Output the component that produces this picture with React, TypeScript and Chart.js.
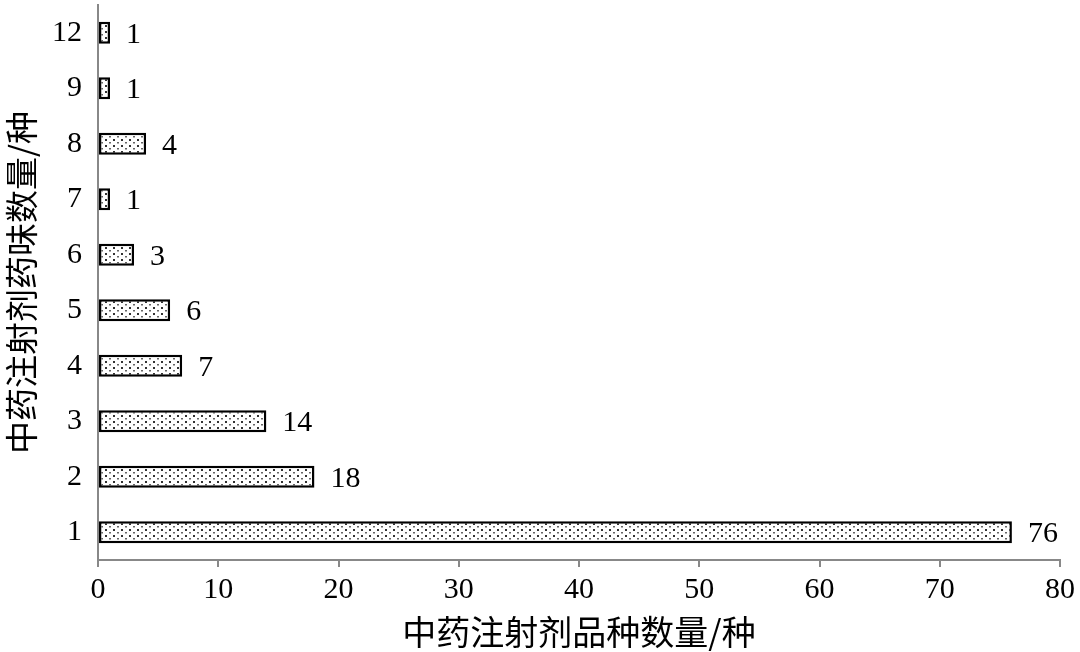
import React, { useEffect, useRef } from "react";
import { Chart, registerables } from "chart.js";

Chart.register(...registerables);

const categories = ["12", "9", "8", "7", "6", "5", "4", "3", "2", "1"];
const counts = [1, 1, 4, 1, 3, 6, 7, 14, 18, 76];
const xTicks = [0, 10, 20, 30, 40, 50, 60, 70, 80];
const xTitle = "中药注射剂品种数量/种";
const yTitle = "中药注射剂药味数量/种";

const SERIF = "'Liberation Serif', 'Times New Roman', serif";
const CJK = "'Noto Sans CJK SC', sans-serif";

function makePattern(): CanvasPattern | string {
  const c = document.createElement("canvas");
  c.width = 8;
  c.height = 6;
  const g = c.getContext("2d");
  if (!g) return "#ddd";
  g.fillStyle = "#ffffff";
  g.fillRect(0, 0, 8, 6);
  g.fillStyle = "#333333";
  g.fillRect(1, 1, 2, 2);
  g.fillStyle = "#666666";
  g.fillRect(5, 4, 2, 1.5);
  const p = g.createPattern(c, "repeat");
  return p || "#ddd";
}

const valueLabels = {
  id: "valueLabels",
  afterDatasetsDraw(chart: any) {
    const ctx = chart.ctx;
    const meta = chart.getDatasetMeta(0);
    ctx.save();
    ctx.fillStyle = "#000";
    ctx.font = `30px ${SERIF}`;
    ctx.textAlign = "left";
    ctx.textBaseline = "middle";
    meta.data.forEach((bar: any, i: number) => {
      ctx.fillText(String(counts[i]), bar.x + 16, bar.y + 2);
    });
    ctx.restore();
  },
};

export default function App() {
  const ref = useRef<HTMLCanvasElement>(null);
  useEffect(() => {
    document.body.style.margin = "0";
    const canvas = ref.current;
    if (!canvas) return;
    const chart = new Chart(canvas, {
      type: "bar",
      data: {
        labels: categories,
        datasets: [
          {
            data: counts,
            backgroundColor: makePattern() as any,
            borderColor: "#000",
            borderWidth: 2.5,
            borderSkipped: false,
            barPercentage: 0.4,
            categoryPercentage: 1,
          },
        ],
      },
      options: {
        indexAxis: "y",
        responsive: false,
        animation: false,
        layout: { padding: { top: 5, right: 20, left: 0, bottom: 0 } },
        plugins: {
          legend: { display: false },
          tooltip: { enabled: false },
        },
        scales: {
          x: {
            min: 0,
            max: 80,
            afterBuildTicks: (scale: any) => {
              scale.ticks = xTicks.map((v) => ({ value: v }));
            },
            afterFit: (scale: any) => {
              scale.height = 92;
            },
            grid: {
              display: true,
              drawOnChartArea: false,
              drawTicks: true,
              tickLength: 7,
              color: "#888",
              lineWidth: 2,
            },
            border: { display: true, color: "#888", width: 2 },
            ticks: {
              color: "#000",
              font: { family: SERIF, size: 30 },
              padding: 5,
              maxRotation: 0,
            },
            title: {
              display: true,
              text: xTitle,
              color: "#000",
              font: { family: CJK, size: 34 },
              padding: { top: 1, bottom: 0 },
            },
          },
          y: {
            afterFit: (scale: any) => {
              scale.width = 98;
              scale.paddingTop = 0;
              scale.paddingBottom = 0;
            },
            grid: { display: false, drawTicks: false },
            border: { display: true, color: "#888", width: 2 },
            ticks: {
              color: "#000",
              font: { family: SERIF, size: 30 },
              padding: 16,
            },
            title: {
              display: true,
              text: yTitle,
              color: "#000",
              font: { family: CJK, size: 33 },
              padding: { top: 2, bottom: 0 },
            },
          },
        },
      },
      plugins: [valueLabels],
    });
    return () => chart.destroy();
  }, []);
  return (
    <div style={{ position: "absolute", left: 0, top: 0, width: 1080, height: 652, background: "#fff" }}>
      <canvas ref={ref} width={1080} height={652} />
    </div>
  );
}
